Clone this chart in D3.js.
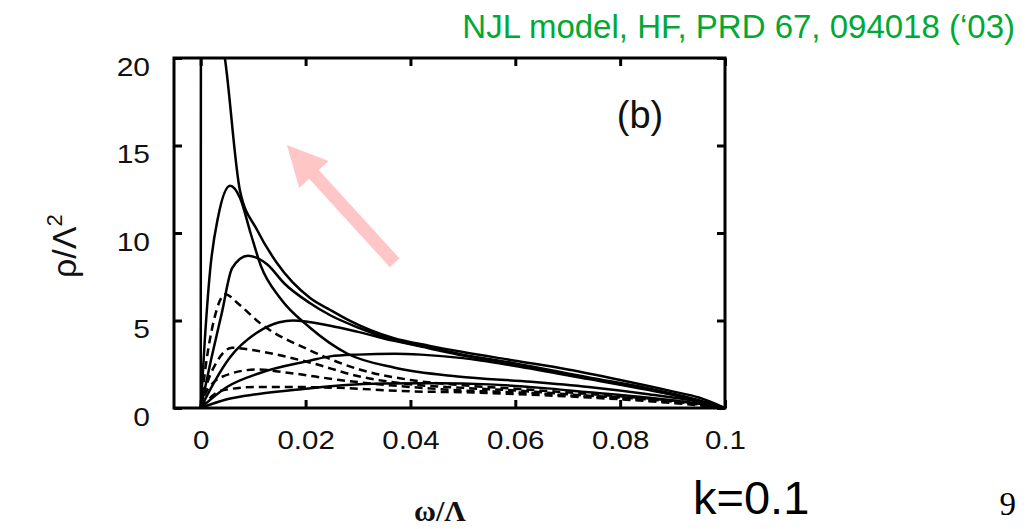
<html>
<head>
	<meta charset='utf-8' />
	<title>Spectral function k=0.1</title>
	<script src="https://d3js.org/d3.v7.min.js"></script>
	<style>
		body { margin: 0; background: #fff; }
		text { font-family: "Liberation Sans", Arial, sans-serif; }
		.curve { fill: none; stroke: #000; stroke-width: 2.5; }
		.dash { stroke-dasharray: 8,5; }
	</style>
</head>
<body>
<script>

	// axis ticks
	var xTicks = [0, 0.02, 0.04, 0.06, 0.08, 0.1];
	var xTickLabels = ["0", "0.02", "0.04", "0.06", "0.08", "0.1"];
	var yTicks = [0, 5, 10, 15, 20];

	// solid curves, [omega/Lambda, rho/Lambda^2]
	var solid1 = [[0,0],[0.00005,25],[0.0046,20],[0.0075,12.4],[0.0107,10.2],[0.0145,8.3],[0.0208,6.3],[0.0247,5.6],[0.028,5.05],[0.0367,4.0],[0.0437,3.55],[0.05,3.2],[0.06,2.7],[0.07,2.2],[0.08,1.6],[0.09,0.95],[0.095,0.6],[0.1,0]];
	var solid2 = [[0,0],[0.0008,4],[0.0018,7.9],[0.0033,10.9],[0.0056,12.7],[0.0075,12.0],[0.0095,10.0],[0.0115,8.1],[0.0151,6.3],[0.0208,4.6],[0.028,3.1],[0.037,2.3],[0.049,1.8],[0.063,1.5],[0.074,1.2],[0.085,0.8],[0.095,0.35],[0.1,0]];
	var solid3 = [[0,0],[0.002,2.8],[0.004,5.4],[0.006,8.0],[0.009,8.7],[0.0127,8.2],[0.016,7.1],[0.0208,6.0],[0.0247,5.3],[0.03,4.6],[0.0367,3.9],[0.0437,3.45],[0.05,3.05],[0.06,2.55],[0.074,1.75],[0.085,1.15],[0.095,0.45],[0.1,0]];
	var solid4 = [[0,0],[0.0005,0.3],[0.0056,2.9],[0.0107,4.3],[0.015,4.9],[0.0176,5.0],[0.0247,4.7],[0.03,4.35],[0.0367,3.85],[0.0437,3.4],[0.05,3.0],[0.06,2.5],[0.074,1.7],[0.085,1.1],[0.095,0.4],[0.1,0]];
	var solid5 = [[0,0],[0.005,1.2],[0.0113,2.0],[0.0208,2.7],[0.0247,2.95],[0.03,3.05],[0.037,3.1],[0.042,3.05],[0.05,2.85],[0.06,2.4],[0.074,1.65],[0.085,1.05],[0.095,0.4],[0.1,0]];
	var solid6 = [[0,0],[0.005,0.5],[0.011,0.8],[0.02,1.1],[0.027,1.3],[0.035,1.4],[0.045,1.42],[0.055,1.35],[0.065,1.15],[0.074,0.9],[0.085,0.6],[0.095,0.25],[0.1,0]];

	// dashed curves
	var dashed1 = [[0,0],[0.001,2.5],[0.0025,5.0],[0.0047,6.5],[0.007,6.0],[0.0113,4.85],[0.0208,3.3],[0.0303,2.2],[0.04,1.6],[0.05,1.3],[0.06,1.1],[0.074,0.8],[0.085,0.55],[0.095,0.25],[0.1,0]];
	var dashed2 = [[0,0],[0.001,1.2],[0.003,2.6],[0.006,3.45],[0.009,3.35],[0.0208,2.6],[0.0303,1.8],[0.04,1.35],[0.05,1.15],[0.06,1.0],[0.074,0.7],[0.085,0.5],[0.095,0.2],[0.1,0]];
	var dashed3 = [[0,0],[0.0005,0.6],[0.0042,1.8],[0.0107,2.2],[0.017,2.0],[0.0265,1.6],[0.04,1.2],[0.05,1.0],[0.06,0.9],[0.074,0.65],[0.085,0.45],[0.095,0.2],[0.1,0]];
	var dashed4 = [[0,0],[0.004,1.0],[0.0107,1.2],[0.017,1.2],[0.0265,1.15],[0.04,0.95],[0.05,0.9],[0.06,0.8],[0.074,0.6],[0.085,0.4],[0.095,0.15],[0.1,0]];

	// pink arrow annotation (tail, tip) in data units
	var arrowTail = [0.037, 8.3];
	var arrowTip = [0.01644, 15.03];

	var curves = [
		{pts: solid1, dashed: false}, {pts: solid2, dashed: false}, {pts: solid3, dashed: false},
		{pts: solid4, dashed: false}, {pts: solid5, dashed: false}, {pts: solid6, dashed: false},
		{pts: dashed1, dashed: true}, {pts: dashed2, dashed: true}, {pts: dashed3, dashed: true}, {pts: dashed4, dashed: true}
	];

	var W = 1028, H = 529;
	var plot = {left: 174, right: 725, top: 58, bottom: 408};

	var svg = d3.select("body").append("svg")
		.attr("width", W)
		.attr("height", H);

	var x = d3.scaleLinear().domain([-0.0051, 0.1]).range([plot.left, plot.right]);
	var y = d3.scaleLinear().domain([0, 20]).range([plot.bottom, plot.top]);

	svg.append("clipPath").attr("id", "clip")
		.append("rect")
		.attr("x", plot.left).attr("y", plot.top)
		.attr("width", plot.right - plot.left).attr("height", plot.bottom - plot.top);

	// arrow, drawn under the curves
	var p0 = [x(arrowTail[0]), y(arrowTail[1])];
	var p1 = [x(arrowTip[0]), y(arrowTip[1])];
	var dx = p1[0] - p0[0], dy = p1[1] - p0[1];
	var len = Math.sqrt(dx*dx + dy*dy);
	var ux = dx/len, uy = dy/len, nx = -uy, ny = ux;
	var headLen = 40, headW = 20, shaftW = 6.5;
	var hb = [p1[0] - ux*headLen, p1[1] - uy*headLen];
	var arrowPts = [
		[p0[0] + nx*shaftW, p0[1] + ny*shaftW],
		[hb[0] + nx*shaftW, hb[1] + ny*shaftW],
		[hb[0] + nx*headW, hb[1] + ny*headW],
		p1,
		[hb[0] - nx*headW, hb[1] - ny*headW],
		[hb[0] - nx*shaftW, hb[1] - ny*shaftW],
		[p0[0] - nx*shaftW, p0[1] - ny*shaftW]
	];
	svg.append("polygon")
		.attr("points", arrowPts.map(d => d.join(",")).join(" "))
		.attr("fill", "#ffc6c6");

	var line = d3.line()
		.x(d => x(d[0]))
		.y(d => y(d[1]))
		.curve(d3.curveMonotoneX);

	svg.append("g")
		.attr("clip-path", "url(#clip)")
		.selectAll("path")
		.data(curves).enter()
		.append("path")
		.attr("class", d => d.dashed ? "curve dash" : "curve")
		.attr("d", d => line(d.pts));

	// axes with inward ticks
	var xAxis = svg.append("g")
		.attr("transform", `translate(0,${plot.bottom})`)
		.call(d3.axisBottom(x).tickValues(xTicks).tickFormat((d, i) => xTickLabels[i]).tickSizeInner(-8).tickSizeOuter(0).tickPadding(0));
	xAxis.selectAll("text")
		.attr("y", 41).attr("dy", 0)
		.attr("font-size", "25px")
		.attr("fill", "#111")
		.attr("transform", "scale(1.18,1)");

	var yAxis = svg.append("g")
		.attr("transform", `translate(${plot.left},0)`)
		.call(d3.axisLeft(y).tickValues(yTicks).tickSizeInner(-8).tickSizeOuter(0));
	yAxis.selectAll("text")
		.attr("x", -20).attr("y", 17).attr("dy", 0)
		.attr("font-size", "25px")
		.attr("fill", "#111")
		.attr("transform", "scale(1.2,1)");

	svg.append("g")
		.attr("transform", `translate(0,${plot.top})`)
		.call(d3.axisTop(x).tickValues(xTicks).tickFormat("").tickSizeInner(-8).tickSizeOuter(0));
	svg.append("g")
		.attr("transform", `translate(${plot.right},0)`)
		.call(d3.axisRight(y).tickValues(yTicks).tickFormat("").tickSizeInner(-8).tickSizeOuter(0));

	svg.selectAll(".domain").remove();
	svg.selectAll(".tick line").attr("stroke", "#000").attr("stroke-width", 3);

	svg.append("rect")
		.attr("x", plot.left).attr("y", plot.top)
		.attr("width", plot.right - plot.left).attr("height", plot.bottom - plot.top)
		.attr("fill", "none").attr("stroke", "#000").attr("stroke-width", 3);

	// panel label
	svg.append("text")
		.attr("x", 640).attr("y", 128)
		.attr("text-anchor", "middle")
		.attr("font-size", "38px")
		.attr("fill", "#111")
		.text("(b)");

	// y label
	var ylab = svg.append("text")
		.attr("transform", "translate(76,278) rotate(-90)")
		.attr("font-size", "34px")
		.attr("fill", "#111");
	ylab.append("tspan").text("\u03c1/\u039b");
	ylab.append("tspan").attr("dy", -14).attr("font-size", "22px").text("2");

	// x label
	svg.append("text")
		.attr("x", 440).attr("y", 521)
		.attr("text-anchor", "middle")
		.style("font-family", "'Liberation Serif', 'Times New Roman', serif")
		.attr("font-size", "30px")
		.attr("font-weight", "bold")
		.attr("fill", "#111")
		.text("\u03c9/\u039b");

	// slide annotations
	svg.append("text")
		.attr("x", 1015).attr("y", 38)
		.attr("text-anchor", "end")
		.attr("font-size", "33px")
		.attr("fill", "#00a933")
		.text("NJL model, HF, PRD 67, 094018 (\u201803)");

	svg.append("text")
		.attr("x", 693).attr("y", 514)
		.attr("font-size", "47px")
		.attr("fill", "#000")
		.text("k=0.1");

	svg.append("text")
		.attr("x", 1016).attr("y", 515)
		.attr("text-anchor", "end")
		.style("font-family", "'Liberation Serif', 'Times New Roman', serif")
		.attr("font-size", "33px")
		.attr("fill", "#000")
		.text("9");

</script>
</body>
</html>
